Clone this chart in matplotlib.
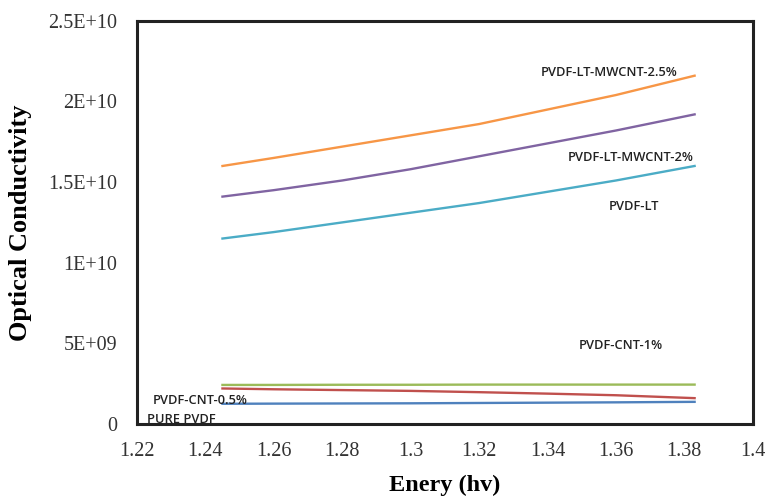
import matplotlib
matplotlib.use("Agg")
import matplotlib.pyplot as plt
import numpy as np

# energy (hv) sample points
energy = [1.245, 1.26, 1.28, 1.30, 1.32, 1.34, 1.36, 1.383]

# optical conductivity, in units of 1e9
lt_mwcnt_25 = [16.0, 16.5, 17.2, 17.9, 18.6, 19.5, 20.4, 21.6]
lt_mwcnt_2 = [14.1, 14.5, 15.1, 15.8, 16.6, 17.4, 18.2, 19.2]
pvdf_lt = [11.5, 11.9, 12.5, 13.1, 13.7, 14.4, 15.1, 16.0]
cnt_1 = [2.42, 2.42, 2.43, 2.43, 2.44, 2.44, 2.44, 2.44]
cnt_05 = [2.20, 2.15, 2.10, 2.05, 1.97, 1.88, 1.78, 1.60]
pure_pvdf = [1.25, 1.26, 1.27, 1.28, 1.30, 1.32, 1.34, 1.37]

series = [
    (lt_mwcnt_25, '#F79646'),
    (lt_mwcnt_2, '#8064A2'),
    (pvdf_lt, '#4BACC6'),
    (cnt_1, '#9BBB59'),
    (cnt_05, '#C0504D'),
    (pure_pvdf, '#4F81BD'),
]

# label text and where it sits (x, y in 1e9)
labels = ['PVDF-LT-MWCNT-2.5%', 'PVDF-LT-MWCNT-2%', 'PVDF-LT',
          'PVDF-CNT-1%', 'PVDF-CNT-0.5%', 'PURE PVDF']
label_x = [1.338, 1.346, 1.358, 1.349, 1.2247, 1.2229]
label_y = [21.8, 16.5, 13.5, 4.85, 1.45, 0.3]

fig = plt.figure(figsize=(7.65, 4.97), dpi=100)
ax = fig.add_axes([0.179, 0.147, 0.805, 0.811])

x = np.array(energy)
for vals, col in series:
    ax.plot(x, np.array(vals) * 1e9, color=col, linewidth=1.7)

for txt, lx, ly in zip(labels, label_x, label_y):
    ax.text(lx, ly * 1e9, txt, fontsize=9.3, fontweight='semibold', color='#222222',
            family='Open Sans', va='center', ha='left')

ax.set_xlim(1.22, 1.4)
ax.set_ylim(0, 2.5e10)
ax.set_xticks([1.22, 1.24, 1.26, 1.28, 1.3, 1.32, 1.34, 1.36, 1.38, 1.4])
ax.set_xticklabels(['1.22', '1.24', '1.26', '1.28', '1.3', '1.32', '1.34', '1.36', '1.38', '1.4'])
ax.set_yticks([0, 5e9, 1e10, 1.5e10, 2e10, 2.5e10])
ax.set_yticklabels(['0', '5E+09', '1E+10', '1.5E+10', '2E+10', '2.5E+10'])

for lab in ax.get_xticklabels() + ax.get_yticklabels():
    lab.set_family('Liberation Serif')
    lab.set_fontsize(14.5)
    lab.set_color('#333333')
ax.tick_params(axis='y', length=0, pad=14)
ax.tick_params(axis='x', length=0, pad=13)

for sp in ax.spines.values():
    sp.set_linewidth(2.2)
    sp.set_color('#222222')

ax.set_xlabel('Enery (hv)', family='Liberation Serif', fontweight='bold', fontsize=17.5, labelpad=10)
ax.set_ylabel('Optical Conductivity', family='Liberation Serif', fontweight='bold', fontsize=19, labelpad=12)

fig.savefig('out.png', dpi=100)
